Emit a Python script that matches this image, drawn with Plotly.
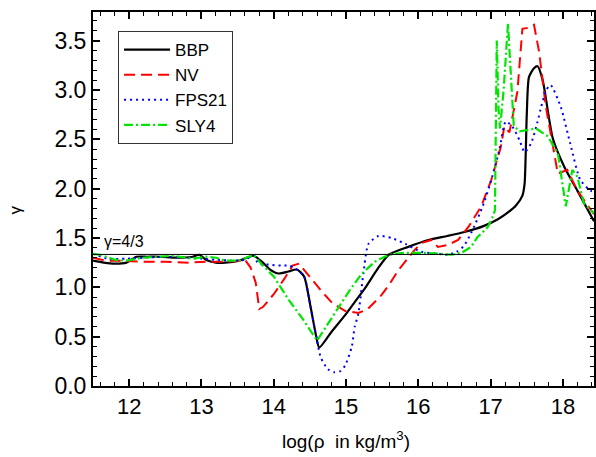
import plotly.graph_objects as go

BBP_X = [11.5, 11.65, 11.8, 11.96, 12.1, 12.25, 12.42, 12.65, 12.88, 12.97, 13.06, 13.2, 13.33, 13.52, 13.72, 13.85, 13.95, 14.07, 14.2, 14.32, 14.42, 14.51, 14.58, 14.63, 14.8, 14.99, 15.13, 15.27, 15.43, 15.59, 15.86, 16.14, 16.4, 16.64, 16.9, 17.1, 17.24, 17.35, 17.44, 17.47, 17.5, 17.53, 17.6, 17.65, 17.72, 17.86, 18.02, 18.2, 18.43]
BBP_Y = [1.27, 1.25, 1.24, 1.25, 1.31, 1.31, 1.31, 1.30, 1.31, 1.33, 1.28, 1.25, 1.25, 1.27, 1.32, 1.25, 1.18, 1.14, 1.16, 1.18, 1.11, 0.80, 0.53, 0.39, 0.55, 0.72, 0.86, 1.00, 1.18, 1.33, 1.41, 1.48, 1.52, 1.56, 1.62, 1.69, 1.76, 1.83, 1.93, 2.05, 2.75, 3.13, 3.22, 3.24, 3.10, 2.51, 2.22, 1.98, 1.67]

NV_X = [11.5, 11.68, 11.9, 12.19, 12.5, 12.83, 13.1, 13.33, 13.61, 13.68, 13.75, 13.8, 13.85, 14.0, 14.15, 14.26, 14.35, 14.5, 14.65, 14.81, 14.99, 15.17, 15.3, 15.49, 15.6, 15.72, 15.85, 15.95, 16.05, 16.18, 16.27, 16.41, 16.55, 16.7, 16.87, 17.01, 17.14, 17.19, 17.26, 17.37, 17.41, 17.44, 17.52, 17.6, 17.67, 17.72, 17.76, 17.83, 17.93, 18.06, 18.2, 18.43]
NV_Y = [1.30, 1.27, 1.27, 1.26, 1.26, 1.25, 1.26, 1.26, 1.27, 1.20, 1.05, 0.78, 0.80, 0.93, 1.09, 1.22, 1.24, 1.10, 0.97, 0.84, 0.76, 0.74, 0.78, 0.92, 1.03, 1.17, 1.29, 1.38, 1.45, 1.48, 1.41, 1.43, 1.48, 1.62, 1.82, 2.09, 2.42, 2.63, 2.57, 2.98, 3.35, 3.62, 3.63, 3.66, 3.39, 3.08, 2.85, 2.56, 2.15, 2.19, 1.98, 1.74]

FPS_X = [11.5, 11.7, 11.96, 12.2, 12.5, 12.8, 13.0, 13.2, 13.45, 13.6, 13.72, 13.79, 13.93, 14.1, 14.21, 14.3, 14.42, 14.51, 14.58, 14.65, 14.75, 14.83, 14.92, 14.99, 15.08, 15.12, 15.17, 15.24, 15.31, 15.45, 15.63, 15.82, 16.04, 16.27, 16.41, 16.53, 16.63, 16.73, 16.89, 17.01, 17.12, 17.21, 17.3, 17.4, 17.47, 17.56, 17.65, 17.7, 17.77, 17.83, 17.97, 18.1, 18.24, 18.38, 18.43]
FPS_Y = [1.34, 1.29, 1.29, 1.30, 1.31, 1.30, 1.29, 1.28, 1.27, 1.28, 1.32, 1.24, 1.23, 1.22, 1.22, 1.19, 1.11, 0.80, 0.53, 0.29, 0.17, 0.14, 0.15, 0.21, 0.40, 0.60, 0.73, 1.14, 1.44, 1.52, 1.50, 1.44, 1.36, 1.34, 1.33, 1.36, 1.42, 1.55, 1.82, 2.09, 2.39, 2.68, 2.63, 2.49, 2.37, 2.46, 2.68, 2.83, 3.0, 3.05, 2.83, 2.46, 2.09, 1.98, 1.97]

SLY_X = [11.5, 11.6, 11.8, 11.96, 12.19, 12.4, 12.6, 12.88, 13.06, 13.2, 13.33, 13.52, 13.72, 13.85, 14.0, 14.21, 14.4, 14.6, 14.75, 14.9, 15.05, 15.22, 15.4, 15.59, 15.8, 16.1, 16.46, 16.6, 16.73, 16.82, 16.96, 17.02, 17.06, 17.085, 17.11, 17.13, 17.18, 17.24, 17.28, 17.32, 17.4, 17.5, 17.63, 17.79, 17.93, 18.04, 18.13, 18.2, 18.29, 18.43]
SLY_Y = [1.34, 1.33, 1.28, 1.27, 1.30, 1.31, 1.32, 1.29, 1.31, 1.30, 1.27, 1.27, 1.33, 1.22, 1.11, 0.87, 0.68, 0.46, 0.63, 0.80, 0.97, 1.14, 1.26, 1.33, 1.35, 1.35, 1.33, 1.35, 1.41, 1.51, 1.61, 1.70, 1.78, 3.50, 2.80, 2.61, 3.0, 3.67, 3.1, 2.64, 2.58, 2.59, 2.61, 2.53, 2.36, 1.82, 2.19, 2.12, 1.85, 1.75]

GAMMA_REF = 4.0 / 3.0
X_RANGE = [11.5, 18.43]
Y_RANGE = [0, 3.79]

FONT = "Liberation Sans, Arial, sans-serif"

fig = go.Figure()
fig.add_trace(go.Scatter(x=BBP_X, y=BBP_Y, mode="lines", name="BBP",
                         line=dict(color="black", width=2.2, shape="spline", smoothing=0.6)))
fig.add_trace(go.Scatter(x=NV_X, y=NV_Y, mode="lines", name="NV",
                         line=dict(color="#ff0000", width=2, dash="11px,6px")))
fig.add_trace(go.Scatter(x=FPS_X, y=FPS_Y, mode="lines", name="FPS21",
                         line=dict(color="#0000ff", width=2, dash="2px,4px", shape="spline", smoothing=0.6)))
fig.add_trace(go.Scatter(x=SLY_X, y=SLY_Y, mode="lines", name="SLY4",
                         line=dict(color="#00e600", width=2.2, dash="9px,3px,2px,3px")))

fig.add_shape(type="line", xref="paper", x0=0, x1=1, yref="y", y0=GAMMA_REF, y1=GAMMA_REF,
              line=dict(color="black", width=1))

fig.add_annotation(x=11.62, y=GAMMA_REF, xref="x", yref="y", text="γ=4/3", showarrow=False,
                   xanchor="left", yanchor="bottom", yshift=2, font=dict(family=FONT, size=16, color="black"))
fig.add_annotation(x=-0.155, y=0.47, xref="paper", yref="paper", text="γ", showarrow=False,
                   xanchor="center", yanchor="middle",
                   textangle=-90, font=dict(family=FONT, size=17, color="black"))
fig.add_annotation(x=0.505, y=-0.144, xref="paper", yref="paper", text="log(ρ  in kg/m<sup>3</sup>)",
                   showarrow=False, xanchor="center", yanchor="middle",
                   font=dict(family=FONT, size=19, color="black"))

axis_common = dict(showgrid=False, zeroline=False, showline=True, linecolor="black", linewidth=2,
                   mirror="allticks", ticks="inside", ticklen=7, tickwidth=1.5, tickcolor="black")

fig.update_xaxes(range=X_RANGE, dtick=1, tick0=12,
                 tickfont=dict(family=FONT, size=22, color="black"),
                 minor=dict(dtick=0.2, ticks="inside", ticklen=4, tickwidth=1.2, tickcolor="black"),
                 **axis_common)
fig.update_yaxes(range=Y_RANGE, dtick=0.5, tick0=0, tickformat=".1f",
                 tickfont=dict(family=FONT, size=23, color="black"),
                 minor=dict(dtick=0.1, ticks="inside", ticklen=4, tickwidth=1.2, tickcolor="black"),
                 **axis_common)

fig.update_layout(
    width=596, height=457,
    margin=dict(l=93, r=0, t=12, b=71),
    plot_bgcolor="white", paper_bgcolor="white",
    font=dict(family=FONT, color="black"),
    legend=dict(x=0.05, y=0.949, xanchor="left", yanchor="top",
                bgcolor="white", bordercolor="#333333", borderwidth=1,
                font=dict(family=FONT, size=17, color="black"),
                itemwidth=46, tracegroupgap=0),
    showlegend=True,
)

fig.write_html("out.html")
